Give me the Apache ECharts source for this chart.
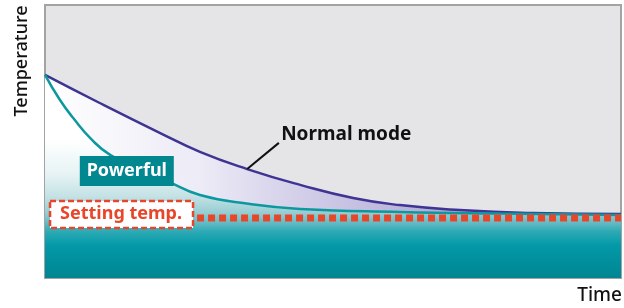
<!DOCTYPE html>
<html>
<head>
<meta charset="utf-8">
<script src="https://cdn.jsdelivr.net/npm/echarts@6/dist/echarts.min.js"></script>
<style>
html,body{margin:0;padding:0;background:#fff}
#chart{width:624px;height:308px}
</style>
</head>
<body>
<div id="chart"></div>
<script>
// curves (time 0..100, temperature 0..100)
let normalTime = [0, 9.5, 20.0, 26.9, 35.1, 44.3, 53.5, 61.6, 72.0, 84.7, 100];
let normalTemp = [74.4, 64.1, 53.1, 46.2, 39.9, 34.1, 29.3, 26.7, 24.9, 23.8, 23.4];
let powerfulTime = [0, 2.6, 4.9, 8.2, 11.3, 16.5, 21.2, 26.9, 35.6, 44.3, 61.6, 79.0, 100];
let powerfulTemp = [74.4, 65.2, 58.6, 50.5, 45.1, 39.6, 35.5, 30.4, 27.1, 25.3, 24.2, 23.6, 23.1];
let settingTemp = 22.0;
let settingStart = 26.4;
let labels = ['Normal mode', 'Powerful', 'Setting temp.'];
let axisNames = ['Time', 'Temperature'];

function pairs(xs, ys) {
    let out = [];
    for (let i = 0; i < xs.length; i++) {
        out.push([xs[i], ys[i]]);
    }
    return out;
}

let myChart = echarts.init(document.getElementById('chart'));
let font = '"Noto Sans", "Open Sans", sans-serif';

let option = {
    animation: false,
    grid: {
        left: 45,
        top: 5,
        width: 576,
        height: 273,
        show: true,
        backgroundColor: '#e5e5e7',
        borderColor: '#a3a3a3',
        borderWidth: 2
    },
    xAxis: {
        type: 'value',
        min: 0,
        max: 100,
        show: false
    },
    yAxis: {
        type: 'value',
        min: 0,
        max: 100,
        show: false
    },
    series: [
        {
            name: labels[0],
            type: 'line',
            data: pairs(normalTime, normalTemp),
            smooth: 0.5,
            symbol: 'none',
            lineStyle: {color: '#3d3493', width: 2.5},
            areaStyle: {
                opacity: 1,
                color: new echarts.graphic.LinearGradient(0, 0, 1, 0, [
                    {offset: 0, color: '#ffffff'},
                    {offset: 0.27, color: '#ecebf6'},
                    {offset: 0.44, color: '#d3cfe9'},
                    {offset: 0.7, color: '#b0a9d4'},
                    {offset: 1, color: '#9d95cb'}
                ])
            },
            z: 3
        },
        {
            name: labels[1],
            type: 'line',
            data: pairs(powerfulTime, powerfulTemp),
            smooth: 0.5,
            symbol: 'none',
            lineStyle: {color: '#0d989f', width: 2.5},
            areaStyle: {
                opacity: 1,
                color: new echarts.graphic.LinearGradient(0, 0, 0, 1, [
                    {offset: 0, color: '#ffffff'},
                    {offset: 0.32, color: '#ffffff'},
                    {offset: 0.49, color: '#e6f3f4'},
                    {offset: 0.6, color: '#c3e1e4'},
                    {offset: 0.68, color: '#95cdd3'},
                    {offset: 0.72, color: '#6dbec7'},
                    {offset: 0.77, color: '#2eaab5'},
                    {offset: 0.84, color: '#0399a8'},
                    {offset: 1, color: '#008592'}
                ])
            },
            z: 4
        },
        {
            name: labels[2],
            type: 'line',
            data: [[settingStart, settingTemp], [100, settingTemp]],
            symbol: 'none',
            lineStyle: {color: '#e8462a', width: 7, type: [7, 4], cap: 'butt'},
            z: 5
        }
    ]
};
myChart.setOption(option);

// annotations placed from data coordinates
let px = function (x, y) { return myChart.convertToPixel({gridIndex: 0}, [x, y]); };
let lead0 = px(35.1, 39.9);
let lead1 = px(40.6, 49.5);
let normalPos = px(41.0, 52.7);
let powerfulPos = px(14.2, 39.2);
let settingPos = px(13.2, 23.4);

myChart.setOption({
    graphic: [
        {
            type: 'line',
            shape: {x1: lead0[0], y1: lead0[1], x2: lead1[0], y2: lead1[1]},
            style: {stroke: '#111', lineWidth: 2},
            z: 10
        },
        {
            type: 'text',
            x: normalPos[0], y: normalPos[1],
            style: {text: labels[0], fill: '#111', font: 'bold 19px ' + font, align: 'left', verticalAlign: 'middle'},
            z: 10
        },
        {
            type: 'rect',
            shape: {x: powerfulPos[0] - 47, y: powerfulPos[1] - 15, width: 94, height: 30},
            style: {fill: '#00878f'},
            z: 10
        },
        {
            type: 'text',
            x: powerfulPos[0], y: powerfulPos[1],
            style: {text: labels[1], fill: '#fff', font: 'bold 18px ' + font, align: 'center', verticalAlign: 'middle'},
            z: 11
        },
        {
            type: 'rect',
            shape: {x: settingPos[0] - 71, y: settingPos[1] - 13, width: 143, height: 27},
            style: {fill: '#fff', stroke: '#e8462a', lineWidth: 2.5, lineDash: [6, 3]},
            z: 10
        },
        {
            type: 'text',
            x: settingPos[0], y: settingPos[1],
            style: {text: labels[2], fill: '#e8462a', font: 'bold 18px ' + font, align: 'center', verticalAlign: 'middle'},
            z: 11
        },
        {
            type: 'text',
            x: 622, y: 296,
            style: {text: axisNames[0], fill: '#111', font: '500 19px ' + font, align: 'right', verticalAlign: 'middle'}
        },
        {
            type: 'text',
            x: 22, y: 61,
            rotation: Math.PI / 2,
            style: {text: axisNames[1], fill: '#111', font: '500 18px ' + font, align: 'center', verticalAlign: 'middle'}
        }
    ]
});
</script>
</body>
</html>
